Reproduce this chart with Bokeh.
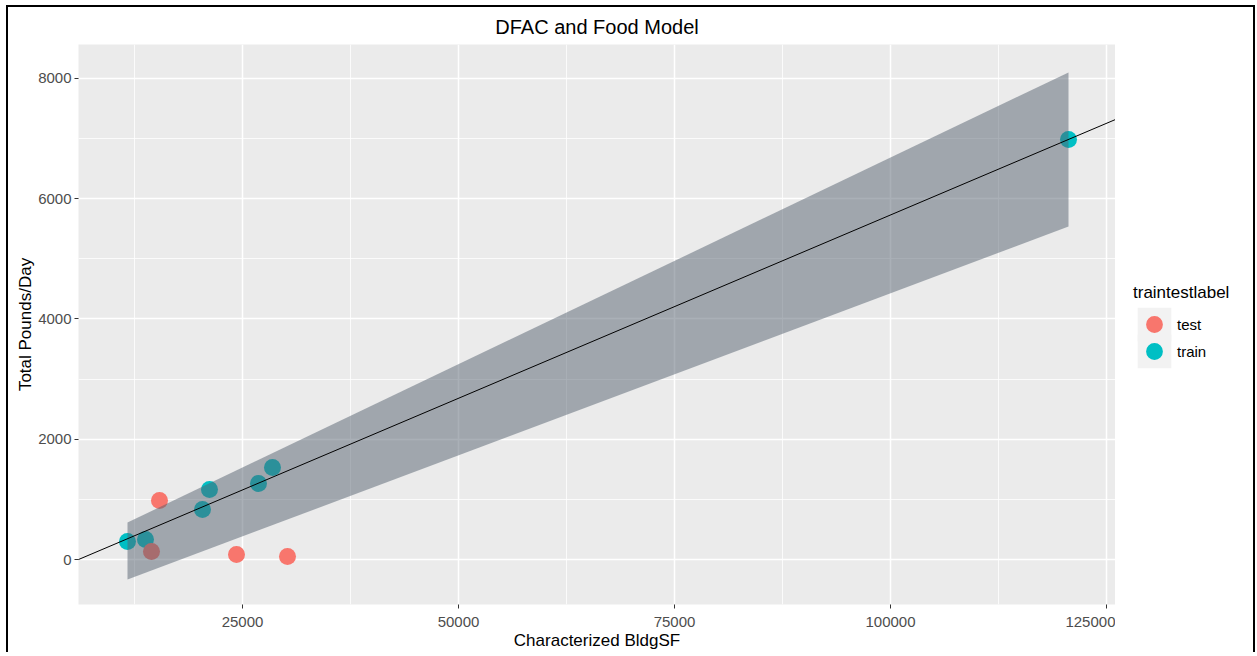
from bokeh.plotting import figure
from bokeh.layouts import row
from bokeh.models import (Legend, LegendItem, Slope, FixedTicker, NumeralTickFormatter,
                          Range1d)
from bokeh.embed import file_html
from bokeh.resources import INLINE

# ---- data ----
categories = ["test", "train"]
cat_colors = ["#F8766D", "#00BFC4"]

test_x = [14468, 15394, 24306, 30208]
test_y = [133, 981, 83, 50]

train_x = [11690, 13773, 20370, 21181, 26852, 28472, 120602]
train_y = [300, 333, 832, 1164, 1264, 1530, 6986]

# fitted line (slope / intercept) and its band at the ends of the training data
fit_slope = 0.06097
fit_intercept = -367
band_x = [11690, 120602]
band_lower = [-333, 5538]
band_upper = [615, 8100]

x_ticks = [25000, 50000, 75000, 100000, 125000]
x_minor = [12500, 37500, 62500, 87500, 112500]
y_ticks = [0, 2000, 4000, 6000, 8000]
y_minor = [1000, 3000, 5000, 7000]

FONT = "Liberation Sans"
FIG_H = 642

p = figure(frame_width=1037, frame_height=560,
           x_range=Range1d(6019, 126041), y_range=Range1d(-748, 8565),
           output_backend="svg", toolbar_location=None,
           title="DFAC and Food Model",
           min_border_left=70, min_border_top=37, min_border_bottom=45,
           min_border_right=0)

p.background_fill_color = "#EBEBEB"
p.border_fill_color = "white"
p.outline_line_color = None

p.title.align = "center"
p.title.text_font = FONT
p.title.text_font_size = "20px"
p.title.text_font_style = "normal"
p.title.text_color = "black"
p.title.standoff = 13

# grids
p.xgrid.ticker = FixedTicker(ticks=x_ticks, minor_ticks=x_minor)
p.ygrid.ticker = FixedTicker(ticks=y_ticks, minor_ticks=y_minor)
for g in (p.xgrid, p.ygrid):
    g.grid_line_color = "white"
    g.grid_line_width = 1.5
    g.minor_grid_line_color = "white"
    g.minor_grid_line_width = 0.8

# axes
p.xaxis.ticker = FixedTicker(ticks=x_ticks)
p.yaxis.ticker = FixedTicker(ticks=y_ticks)
p.xaxis.axis_label = "Characterized BldgSF"
p.yaxis.axis_label = "Total Pounds/Day"
for ax in (p.xaxis, p.yaxis):
    ax.formatter = NumeralTickFormatter(format="0")
    ax.axis_line_color = None
    ax.major_tick_in = 0
    ax.major_tick_out = 4
    ax.major_tick_line_color = "#333333"
    ax.minor_tick_line_color = None
    ax.major_label_text_font = FONT
    ax.major_label_text_font_size = "15px"
    ax.major_label_text_color = "#4D4D4D"
    ax.axis_label_text_font = FONT
    ax.axis_label_text_font_size = "17px"
    ax.axis_label_text_font_style = "normal"
    ax.axis_label_text_color = "black"
p.xaxis.major_label_standoff = 8
p.xaxis.axis_label_standoff = 1
p.yaxis.major_label_standoff = 3
p.yaxis.axis_label_standoff = 0

# points (train first, test on top)
r_train = p.scatter(train_x, train_y, size=17, fill_color=cat_colors[1], line_color=None)
r_test = p.scatter(test_x, test_y, size=17, fill_color=cat_colors[0], line_color=None)

# confidence band drawn over the points
p.varea(x=band_x, y1=band_lower, y2=band_upper, fill_color="#55616F", fill_alpha=0.5)

# regression line
p.add_layout(Slope(gradient=fit_slope, y_intercept=fit_intercept,
                   line_color="black", line_width=1))

# ---- legend panel (separate small figure beside the plot) ----
# its ranges are kept away from the data, so its key renderers only show in the legend
lf = figure(width=138, height=FIG_H, output_backend="svg", toolbar_location=None,
            x_range=Range1d(0, 1), y_range=Range1d(0, 1),
            x_axis_location=None, y_axis_location=None, min_border=0)
lf.grid.visible = False
lf.outline_line_color = None
lf.background_fill_color = "white"
lf.border_fill_color = "white"

series_xy = {"test": (test_x, test_y), "train": (train_x, train_y)}
key_bg = lf.rect(x=band_x, y=band_upper, width=1, height=1,
                 fill_color="#F2F2F2", line_color=None)
common = dict(glyph_width=42, glyph_height=42, label_standoff=2, margin=0, padding=0,
              border_line_color=None, background_fill_alpha=0,
              title_text_font=FONT, title_text_font_size="17px",
              title_text_font_style="normal", title_text_color="black",
              title_standoff=-4,
              label_text_font=FONT, label_text_font_size="15px",
              label_text_color="black")
# one legend block per category, stacked 27 px apart
for i, (c, col) in enumerate(zip(categories, cat_colors)):
    sx, sy = series_xy[c]
    key = lf.scatter(x=sx, y=sy, size=17, fill_color=col, line_color=None)
    lg = Legend(items=[LegendItem(label=c, renderers=[key_bg, key])],
                title="traintestlabel" if i == 0 else None,
                location=(18, 256 - 27 * i), **common)
    lf.add_layout(lg)

layout = row(p, lf, spacing=0)
layout.styles = {"margin-left": "6px", "margin-top": "5px",
                 "border-left": "2px solid black", "border-top": "2px solid black",
                 "border-right": "2px solid black"}

open("out.html", "w").write(file_html(layout, INLINE))
